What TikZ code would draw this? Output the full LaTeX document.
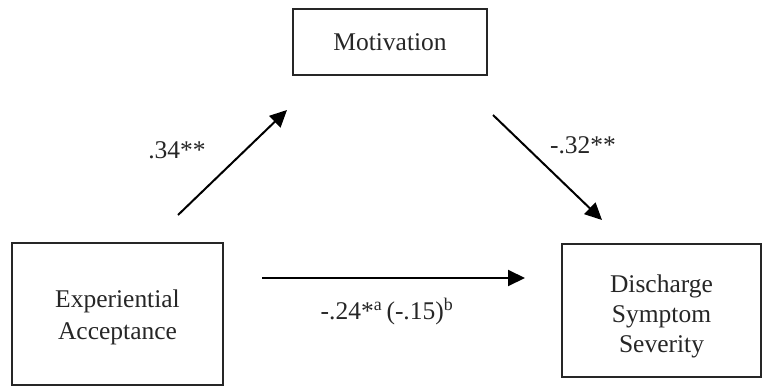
\documentclass[tikz,border=0pt]{standalone}
\usepackage{fontspec}
\setmainfont{Liberation Serif}
\usetikzlibrary{arrows.meta}
\begin{document}
\begin{tikzpicture}[x=1pt,y=-1pt,
  box/.style={draw=black!85,line width=2pt,rectangle,inner sep=0pt},
  lbl/.style={font=\fontsize{25.5}{30}\selectfont,text=black!85,align=center,inner sep=0pt},
  arr/.style={line width=2pt,-{Triangle[length=17pt,width=16pt]}}]
\useasboundingbox (0,0) rectangle (763,388);
% boxes
\node[box,minimum width=211pt,minimum height=142pt] (ea) at (117.5,314) {};
\node[box,minimum width=199pt,minimum height=133pt] (ds) at (661.5,310.5) {};
\node[box,minimum width=194pt,minimum height=66pt] (mo) at (390,42) {};
% texts
\node[lbl,font=\fontsize{25.5}{32}\selectfont,anchor=center] (eat) at ([yshift=-3pt]ea.center) {Experiential\\Acceptance};
\node[lbl,font=\fontsize{25.5}{30}\selectfont,anchor=center] (dst) at ([yshift=-6pt]ds.center) {Discharge\\Symptom\\Severity};
\node[lbl] (mot) at (mo.center) {Motivation};
% arrow endpoints
\coordinate (a1s) at (178,215);
\coordinate (a1e) at (287,110);
\coordinate (a2s) at (493,115);
\coordinate (a2e) at (602,220);
\coordinate (a3s) at (262,278);
\coordinate (a3e) at (525,278);
\draw[arr] (a1s) -- (a1e);
\draw[arr] (a2s) -- (a2e);
\draw[arr] (a3s) -- (a3e);
% labels
\node[lbl] (l1) at (177,150) {.34**};
\node[lbl] (l2) at (583,145) {-.32**};
\node[lbl] (l3) at (387,312) {-.24*\textsuperscript{a}\,(-.15)\textsuperscript{b}};
\end{tikzpicture}
\end{document}
